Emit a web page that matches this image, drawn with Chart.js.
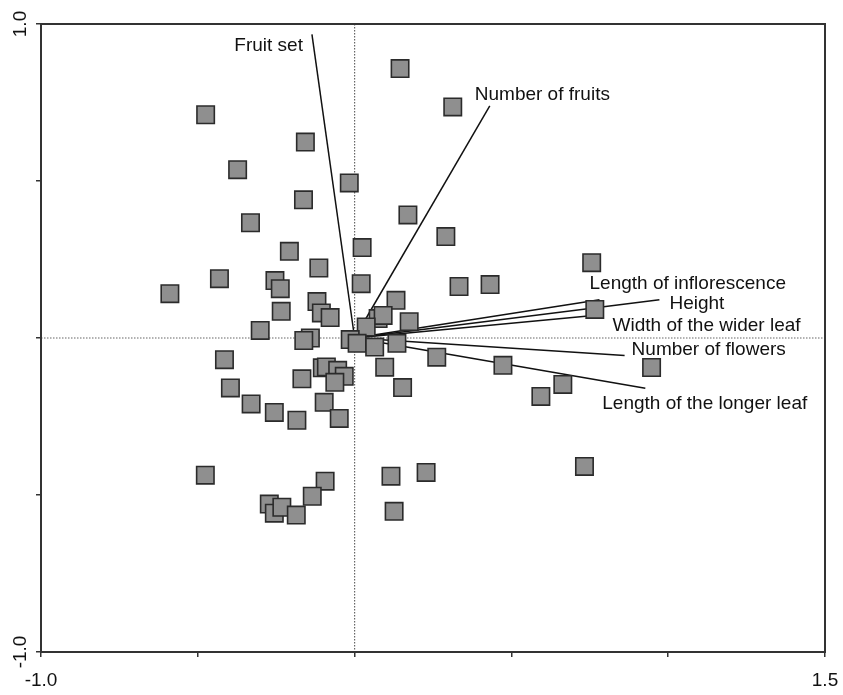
<!DOCTYPE html>
<html>
<head>
<meta charset="utf-8">
<script src="https://cdn.jsdelivr.net/npm/chart.js@4.4.1/dist/chart.umd.min.js"></script>
<style>
  html, body { margin: 0; padding: 0; background: #fff; }
  #wrap { width: 843px; height: 695px; position: relative; }
</style>
</head>
<body>
<div id="wrap"><canvas id="myChart"></canvas></div>
<script>
// sample scores
const scoreX = [0.145, 0.313, -0.475, -0.157, -0.373, -0.017, -0.163, 0.170, -0.332, 0.291,
  0.024, -0.208, 0.756, -0.114, -0.431, -0.254, 0.021, 0.333, 0.432, -0.237,
  -0.589, 0.132, -0.120, -0.234, -0.106, 0.766, -0.078, 0.075, 0.091, 0.174,
  -0.301, 0.037, -0.141, -0.162, -0.014, 0.008, 0.064, 0.135, 0.262, -0.415,
  0.096, 0.473, 0.947, -0.103, -0.090, -0.054, -0.033, -0.168, -0.063, -0.396,
  0.153, 0.664, 0.594, -0.330, -0.097, -0.256, -0.184, -0.049, -0.476, 0.228,
  0.116, 0.733, -0.094, -0.135, -0.272, -0.256, -0.232, -0.186, 0.126];
const scoreY = [0.858, 0.736, 0.711, 0.624, 0.536, 0.494, 0.440, 0.392, 0.367, 0.323,
  0.288, 0.276, 0.240, 0.223, 0.189, 0.183, 0.173, 0.164, 0.170, 0.157,
  0.141, 0.120, 0.116, 0.085, 0.080, 0.091, 0.065, 0.062, 0.072, 0.052,
  0.024, 0.035, 0.000, -0.008, -0.005, -0.017, -0.029, -0.017, -0.061, -0.069,
  -0.093, -0.087, -0.094, -0.095, -0.092, -0.103, -0.122, -0.130, -0.141, -0.159,
  -0.158, -0.148, -0.186, -0.210, -0.205, -0.237, -0.262, -0.256, -0.437, -0.428,
  -0.440, -0.409, -0.456, -0.504, -0.529, -0.558, -0.539, -0.564, -0.552];

// variable loadings (arrow tips)
const variables = ['Fruit set', 'Number of fruits', 'Length of inflorescence', 'Height',
  'Width of the wider leaf', 'Number of flowers', 'Length of the longer leaf'];
const loadX = [-0.136, 0.431, 0.781, 0.972, 0.762, 0.861, 0.927];
const loadY = [0.967, 0.739, 0.122, 0.122, 0.072, -0.056, -0.160];

const xTicks = [-1.0, -0.5, 0, 0.5, 1.0, 1.5];
const xTickLabels = ['-1.0', '', '', '', '', '1.5'];
const yTicks = [-1.0, -0.5, 0, 0.5, 1.0];
const yTickLabels = ['-1.0', '', '', '', '1.0'];

// label placement next to each arrow tip (pixels)
const labelPlace = [
  { dx: -9, dy: 11, align: 'right' },
  { dx: -15, dy: -11, align: 'left' },
  { dx: -10, dy: -16, align: 'left' },
  { dx: 10, dy: 4, align: 'left' },
  { dx: 19, dy: 10, align: 'left' },
  { dx: 7, dy: -6, align: 'left' },
  { dx: -43, dy: 16, align: 'left' }
];

const FONT = '19px "Liberation Sans", Arial, sans-serif';

const points = scoreX.map((x, i) => ({ x: x, y: scoreY[i] }));

const datasets = [{
  label: 'samples',
  data: points,
  pointStyle: 'rect',
  pointRadius: 12.3,
  pointHoverRadius: 12.3,
  backgroundColor: '#8f8f8f',
  borderColor: '#2b2b2b',
  borderWidth: 1.6
}];
variables.forEach((v, i) => {
  datasets.push({
    type: 'line',
    label: v,
    data: [{ x: 0, y: 0 }, { x: loadX[i], y: loadY[i] }],
    borderColor: '#111',
    borderWidth: 1.5,
    pointRadius: 0,
    fill: false
  });
});

const framePlugin = {
  id: 'frame',
  beforeDatasetsDraw(chart) {
    const { ctx, chartArea: a, scales } = chart;
    const x0 = scales.x.getPixelForValue(0);
    const y0 = scales.y.getPixelForValue(0);
    ctx.save();
    ctx.strokeStyle = '#666';
    ctx.lineWidth = 1.2;
    ctx.setLineDash([1.5, 1.5]);
    ctx.beginPath();
    ctx.moveTo(x0, a.top); ctx.lineTo(x0, a.bottom);
    ctx.moveTo(a.left, y0); ctx.lineTo(a.right, y0);
    ctx.stroke();
    ctx.restore();
  },
  afterDatasetsDraw(chart) {
    const { ctx, chartArea: a, scales } = chart;
    ctx.save();
    ctx.strokeStyle = '#333';
    ctx.lineWidth = 2;
    ctx.strokeRect(a.left, a.top, a.right - a.left, a.bottom - a.top);

    ctx.fillStyle = '#111';
    ctx.font = FONT;
    ctx.textBaseline = 'middle';
    variables.forEach((v, i) => {
      const px = scales.x.getPixelForValue(loadX[i]);
      const py = scales.y.getPixelForValue(loadY[i]);
      ctx.textAlign = labelPlace[i].align;
      ctx.fillText(v, px + labelPlace[i].dx, py + labelPlace[i].dy);
    });

    // tick labels
    ctx.textAlign = 'center';
    xTicks.forEach((t, i) => {
      if (!xTickLabels[i]) return;
      ctx.fillText(xTickLabels[i], scales.x.getPixelForValue(t), a.bottom + 29);
    });
    yTicks.forEach((t, i) => {
      if (!yTickLabels[i]) return;
      ctx.save();
      ctx.translate(a.left - 20, scales.y.getPixelForValue(t));
      ctx.rotate(-Math.PI / 2);
      ctx.fillText(yTickLabels[i], 0, 0);
      ctx.restore();
    });
    ctx.restore();
  }
};

const axisStyle = {
  grid: { drawOnChartArea: false, drawTicks: true, tickLength: 5, color: '#333', lineWidth: 1.5 },
  border: { display: true, color: '#333', width: 2 },
  ticks: { display: false, stepSize: 0.5 }
};

new Chart(document.getElementById('myChart'), {
  type: 'scatter',
  data: { datasets: datasets },
  options: {
    responsive: true,
    maintainAspectRatio: false,
    animation: false,
    layout: { padding: { left: 36, right: 18, top: 24, bottom: 38 } },
    plugins: { legend: { display: false }, tooltip: { enabled: false } },
    scales: {
      x: { type: 'linear', min: -1.0, max: 1.5, ...axisStyle },
      y: { type: 'linear', min: -1.0, max: 1.0, ...axisStyle }
    }
  },
  plugins: [framePlugin]
});
</script>
</body>
</html>
